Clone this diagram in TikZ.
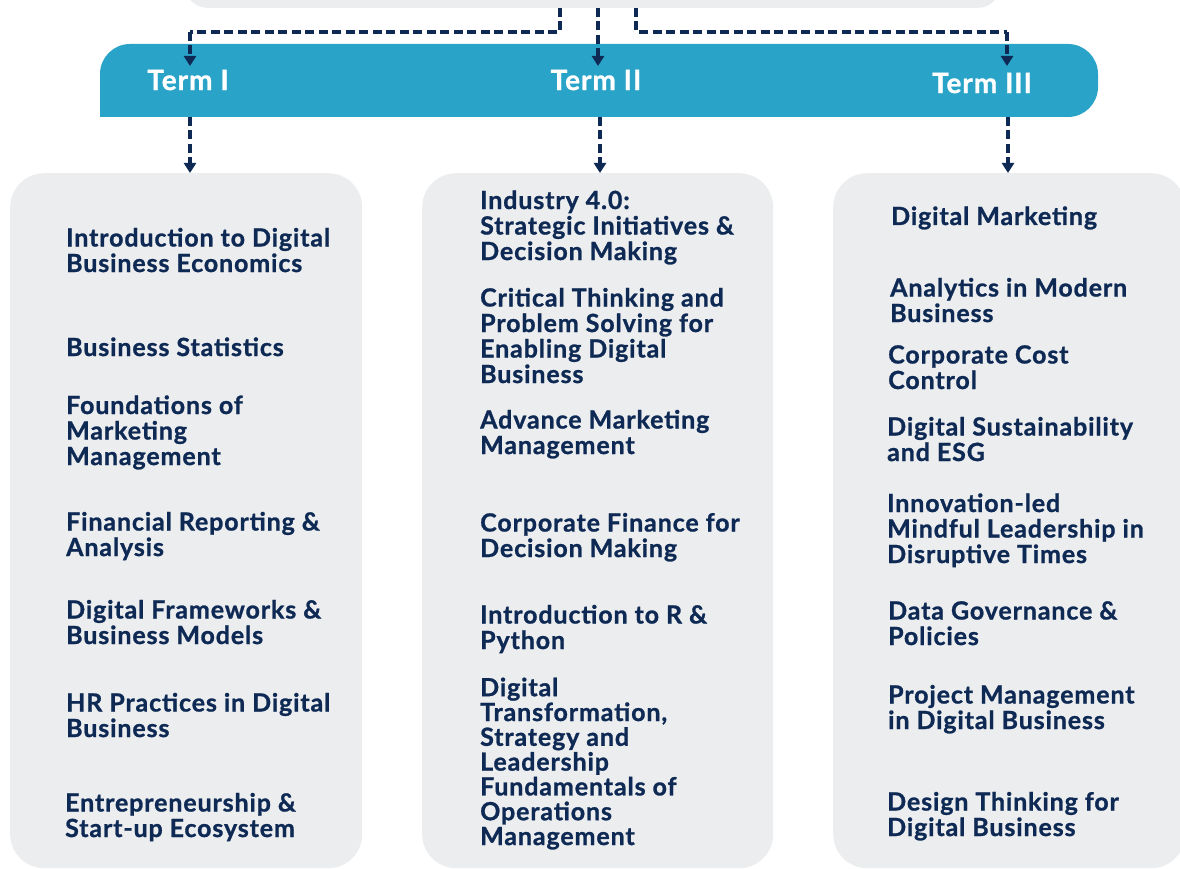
\documentclass[tikz,border=0pt]{standalone}
\usepackage{fontspec}
\setmainfont{Lato}
\newfontfamily\coursefont{Lato}[LetterSpace=3.5, BoldFeatures={FakeBold=1}]
\usetikzlibrary{positioning,arrows.meta}
\definecolor{panelgrey}{HTML}{ECEDEF}
\definecolor{termteal}{HTML}{2AA3C8}
\definecolor{inknavy}{HTML}{0E2A54}
\newcommand{\termrow}[3]{\node[termlbl] (#1) at (#2) {#3};}

\begin{document}
\begin{tikzpicture}[
  x=1pt, y=-1pt,
  colbox/.style={fill=panelgrey, rounded corners=34pt, minimum width=352pt,
                 minimum height=695pt, anchor=north west, inner sep=0pt},
  termlbl/.style={text=white, font=\coursefont\bfseries\fontsize{28}{30}\selectfont, inner sep=2pt},
  course/.style={text=inknavy, font=\coursefont\bfseries\fontsize{25}{25.5}\selectfont,
                 align=left, anchor=base west, inner sep=0pt},
  dasharw/.style={draw=inknavy, line width=3.2pt, dash pattern=on 9pt off 4.5pt,
                  -{Triangle[length=10pt, width=12pt]}},
  dashln/.style={draw=inknavy, line width=3.2pt, dash pattern=on 9pt off 4.5pt}
]
\useasboundingbox (0,0) rectangle (1180,869);

% programme box (cut off at the top) and term banner
\node[fill=panelgrey, rounded corners=22pt, minimum width=815pt, minimum height=60pt,
      anchor=south west, inner sep=0pt] (prog) at (185,8) {};
\fill[termteal, rounded corners=30pt] (100,117) -- (100,44) -- (1098,44) -- (1098,117) [sharp corners] -- cycle;
\coordinate (bannerbot) at (600,117);

\termrow{t1}{188,80}{Term I}
\termrow{t2}{596,80}{Term II}
\termrow{t3}{982,83}{Term III}

% term columns
\node[colbox] (col1) at (10,173) {};
\node[colbox, minimum width=351pt] (col2) at (422,173) {};
\node[colbox] (col3) at (833,173) {};

% connectors
\draw[dashln] (prog.south -| 560,0) |- (190,32) coordinate (k1);
\draw[dasharw] (k1) -- (190,66);
\draw[dasharw] (prog.south -| 598,0) -- (598,66);
\draw[dashln] (prog.south -| 636,0) |- (1007,32) coordinate (k3);
\draw[dasharw] (k3) -- (1007,66);
\draw[dasharw] (bannerbot -| 190,0) -- (col1.north -| 190,0);
\draw[dasharw] (bannerbot -| 600,0) -- (col2.north -| 600,0);
\draw[dasharw] (bannerbot -| 1008,0) -- (col3.north -| 1008,0);

% Term I courses (placed at the baseline of the last line)
\node[course] (a1) at (66,272) {Introduction to Digital\\Business Economics};
\node[course] (a2) at (66,356) {Business Statistics};
\node[course] (a3) at (66,465) {Foundations of\\Marketing\\Management};
\node[course] (a4) at (66,556) {Financial Reporting \&\\Analysis};
\node[course] (a5) at (66,644) {Digital Frameworks \&\\Business Models};
\node[course] (a6) at (66,737) {HR Practices in Digital\\Business};
\node[course] (a7) at (65,837) {Entrepreneurship \&\\Start-up Ecosystem};

% Term II courses
\node[course] (b1) at (480,260) {Industry 4.0:\\Strategic Initiatives \&\\Decision Making};
\node[course] (b2) at (480,383) {Critical Thinking and\\Problem Solving for\\Enabling Digital\\Business};
\node[course] (b3) at (480,454) {Advance Marketing\\Management};
\node[course] (b4) at (480,557) {Corporate Finance for\\Decision Making};
\node[course] (b5) at (480,649) {Introduction to R \&\\Python};
\node[course, font=\coursefont\bfseries\fontsize{25}{24.8}\selectfont] (b6) at (480,845)
  {Digital\\Transformation,\\Strategy and\\Leadership\\Fundamentals of\\Operations\\Management};

% Term III courses
\node[course] (c1) at (891,225) {Digital Marketing};
\node[course] (c2) at (890,322) {Analytics in Modern\\Business};
\node[course] (c3) at (888,389) {Corporate Cost\\Control};
\node[course] (c4) at (887,461) {Digital Sustainability\\and ESG};
\node[course] (c5) at (887,563) {Innovation-led\\Mindful Leadership in\\Disruptive Times};
\node[course] (c6) at (888,645) {Data Governance \&\\Policies};
\node[course] (c7) at (888,729) {Project Management\\in Digital Business};
\node[course] (c8) at (887,836) {Design Thinking for\\Digital Business};
\end{tikzpicture}
\end{document}
